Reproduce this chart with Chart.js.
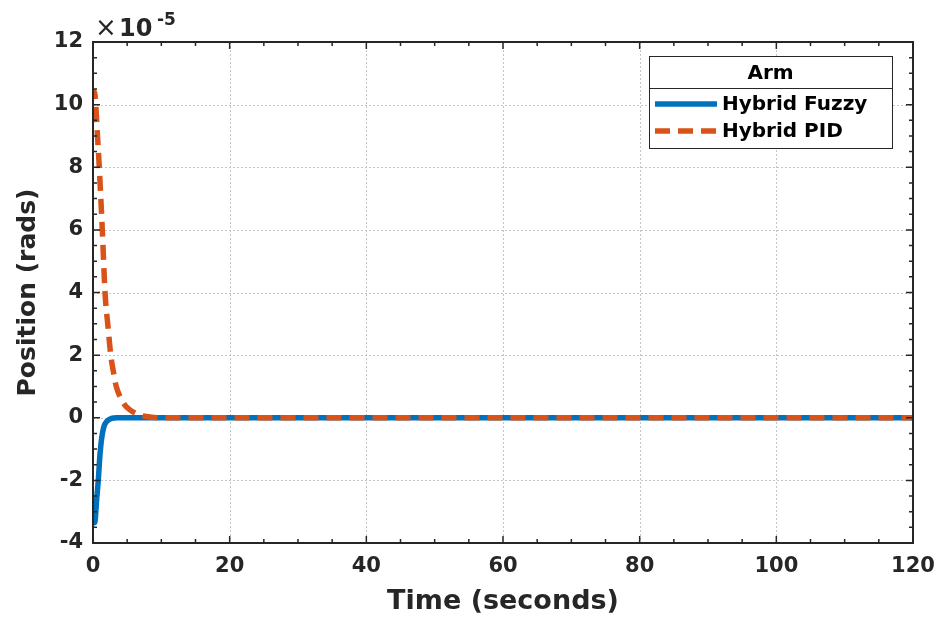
<!DOCTYPE html>
<html>
<head>
<meta charset="utf-8">
<script src="https://cdn.jsdelivr.net/npm/chart.js@4.4.1/dist/chart.umd.min.js"></script>
<style>
  html, body { margin: 0; padding: 0; background: #ffffff; }
  #wrap { width: 941px; height: 618px; position: relative; }
</style>
</head>
<body>
<div id="wrap"><canvas id="c" width="941" height="618"></canvas></div>
<script>
// ---- Data (values in units of 1e-5 rad) ----
const fuzzyTime   = [0, 0.25, 0.54, 0.78, 1.0, 1.27, 1.6, 2.0, 2.7, 3.5, 6, 20, 40, 60, 80, 100, 120];
const fuzzyValues = [-3.0, -3.35, -2.6, -1.98, -1.24, -0.65, -0.28, -0.12, -0.02, 0, 0, 0, 0, 0, 0, 0, 0];
const pidTime     = [0, 0.12, 0.3, 0.63, 0.92, 1.36, 1.76, 2.2, 2.6, 3.0, 3.4, 4.0, 4.6, 5.4, 6.5, 7.8, 10, 20, 40, 60, 80, 100, 120];
const pidValues   = [10.2, 10.42, 10.3, 9.1, 8.0, 6.0, 4.0, 2.9, 2.0, 1.45, 1.0, 0.65, 0.42, 0.25, 0.12, 0.04, 0, 0, 0, 0, 0, 0, 0];
const xTicks = [0, 20, 40, 60, 80, 100, 120];
const yTicks = [-4, -2, 0, 2, 4, 6, 8, 10, 12];
const seriesNames = ['Hybrid Fuzzy', 'Hybrid PID'];
const legendTitle = 'Arm';

const BLUE = '#0072BD', ORANGE = '#D95319', AX = '#262626';
const FONT = '"DejaVu Sans", Verdana, sans-serif';

const toXY = (ts, vs) => ts.map((t, i) => ({x: t, y: vs[i]}));

const decorPlugin = {
  id: 'decor',
  beforeDatasetsDraw(chart) {
    const {ctx, chartArea: a, scales: {x, y}} = chart;
    ctx.save();
    ctx.strokeStyle = '#c4c4c4';
    ctx.lineWidth = 1;
    ctx.setLineDash([2, 2]);
    xTicks.forEach(v => {
      const px = Math.round(x.getPixelForValue(v)) + 0.5;
      if (v === xTicks[0] || v === xTicks[xTicks.length - 1]) return;
      ctx.beginPath(); ctx.moveTo(px, a.top); ctx.lineTo(px, a.bottom); ctx.stroke();
    });
    yTicks.forEach(v => {
      const py = Math.round(y.getPixelForValue(v)) + 0.5;
      if (v === yTicks[0] || v === yTicks[yTicks.length - 1]) return;
      ctx.beginPath(); ctx.moveTo(a.left, py); ctx.lineTo(a.right, py); ctx.stroke();
    });
    ctx.restore();
  },
  afterDraw(chart) {
    const {ctx, chartArea: a, scales: {x, y}} = chart;
    ctx.save();
    ctx.setLineDash([]);
    ctx.strokeStyle = AX;
    ctx.lineWidth = 2;
    ctx.strokeRect(a.left, a.top, a.right - a.left, a.bottom - a.top);
    ctx.lineWidth = 1.5;
    // x ticks (major every 20, minor every 5)
    for (let v = 0; v <= 120; v += 5) {
      const px = x.getPixelForValue(v);
      const len = (v % 20 === 0) ? 7 : 4;
      ctx.beginPath();
      ctx.moveTo(px, a.bottom); ctx.lineTo(px, a.bottom - len);
      ctx.moveTo(px, a.top); ctx.lineTo(px, a.top + len);
      ctx.stroke();
    }
    // y ticks (major every 2, minor every 0.5)
    for (let v = -4; v <= 12.001; v += 0.5) {
      const py = y.getPixelForValue(v);
      const len = (Math.abs(v % 2) < 1e-6) ? 7 : 4;
      ctx.beginPath();
      ctx.moveTo(a.left, py); ctx.lineTo(a.left + len, py);
      ctx.moveTo(a.right, py); ctx.lineTo(a.right - len, py);
      ctx.stroke();
    }
    // exponent label
    ctx.fillStyle = AX;
    ctx.textBaseline = 'alphabetic';
    ctx.textAlign = 'left';
    ctx.font = '26px ' + FONT;
    ctx.fillText('\u00d7', 95, 36);
    ctx.font = 'bold 24px ' + FONT;
    ctx.fillText('10', 119, 36);
    ctx.font = 'bold 17px ' + FONT;
    ctx.fillText('-5', 157, 25);

    // legend box
    const lx = 649, ly = 56, lw = 243, lh = 92, sep = 88;
    ctx.fillStyle = '#ffffff';
    ctx.fillRect(lx, ly, lw, lh);
    ctx.strokeStyle = AX;
    ctx.lineWidth = 1;
    ctx.strokeRect(lx + 0.5, ly + 0.5, lw, lh);
    ctx.beginPath(); ctx.moveTo(lx, sep + 0.5); ctx.lineTo(lx + lw, sep + 0.5); ctx.stroke();
    ctx.fillStyle = '#000000';
    ctx.font = 'bold 20px ' + FONT;
    ctx.textAlign = 'center';
    ctx.textBaseline = 'middle';
    ctx.fillText(legendTitle, lx + lw / 2, 74);
    ctx.textAlign = 'left';
    const rows = [104, 131];
    ctx.lineWidth = 5.5;
    ctx.strokeStyle = BLUE;
    ctx.beginPath(); ctx.moveTo(655, rows[0]); ctx.lineTo(717, rows[0]); ctx.stroke();
    ctx.strokeStyle = ORANGE;
    ctx.setLineDash([15, 8]);
    ctx.beginPath(); ctx.moveTo(655, rows[1]); ctx.lineTo(717, rows[1]); ctx.stroke();
    ctx.setLineDash([]);
    ctx.fillStyle = '#000000';
    ctx.fillText(seriesNames[0], 722, rows[0] + 1);
    ctx.fillText(seriesNames[1], 722, rows[1] + 1);
    ctx.restore();
  }
};

new Chart(document.getElementById('c'), {
  type: 'line',
  data: {
    datasets: [
      {
        label: seriesNames[0],
        data: toXY(fuzzyTime, fuzzyValues),
        borderColor: BLUE, backgroundColor: BLUE,
        borderWidth: 5.5, pointRadius: 0, cubicInterpolationMode: 'monotone',
        order: 2
      },
      {
        label: seriesNames[1],
        data: toXY(pidTime, pidValues),
        borderColor: ORANGE, backgroundColor: ORANGE,
        borderWidth: 5.5, pointRadius: 0, borderDash: [15, 8], cubicInterpolationMode: 'monotone',
        order: 1
      }
    ]
  },
  options: {
    responsive: false,
    animation: false,
    devicePixelRatio: 1,
    layout: { padding: { left: 0, right: 28, top: 42, bottom: 0 } },
    plugins: { legend: { display: false }, tooltip: { enabled: false } },
    scales: {
      x: {
        type: 'linear', min: 0, max: 120,
        afterFit(s) { s.height = 75; s.paddingLeft = 0; s.paddingRight = 0; },
        afterBuildTicks(s) { s.ticks = xTicks.map(v => ({value: v})); },
        grid: { display: false, drawTicks: false },
        border: { display: false },
        ticks: { color: AX, padding: 11, maxRotation: 0, font: { family: FONT, size: 21, weight: 'bold' } },
        title: { display: true, text: 'Time (seconds)', color: AX, padding: { top: 0, bottom: 0 },
                 font: { family: FONT, size: 27, weight: 'bold' } }
      },
      y: {
        type: 'linear', min: -4, max: 12,
        afterFit(s) { s.width = 93; s.paddingTop = 0; s.paddingBottom = 0; },
        afterBuildTicks(s) { s.ticks = yTicks.map(v => ({value: v})); },
        grid: { display: false, drawTicks: false },
        border: { display: false },
        ticks: { color: AX, padding: 10, font: { family: FONT, size: 21, weight: 'bold' } },
        title: { display: true, text: 'Position (rads)', color: AX, padding: { top: 13, bottom: 0 },
                 font: { family: FONT, size: 25, weight: 'bold' } }
      }
    }
  },
  plugins: [decorPlugin]
});
</script>
</body>
</html>
